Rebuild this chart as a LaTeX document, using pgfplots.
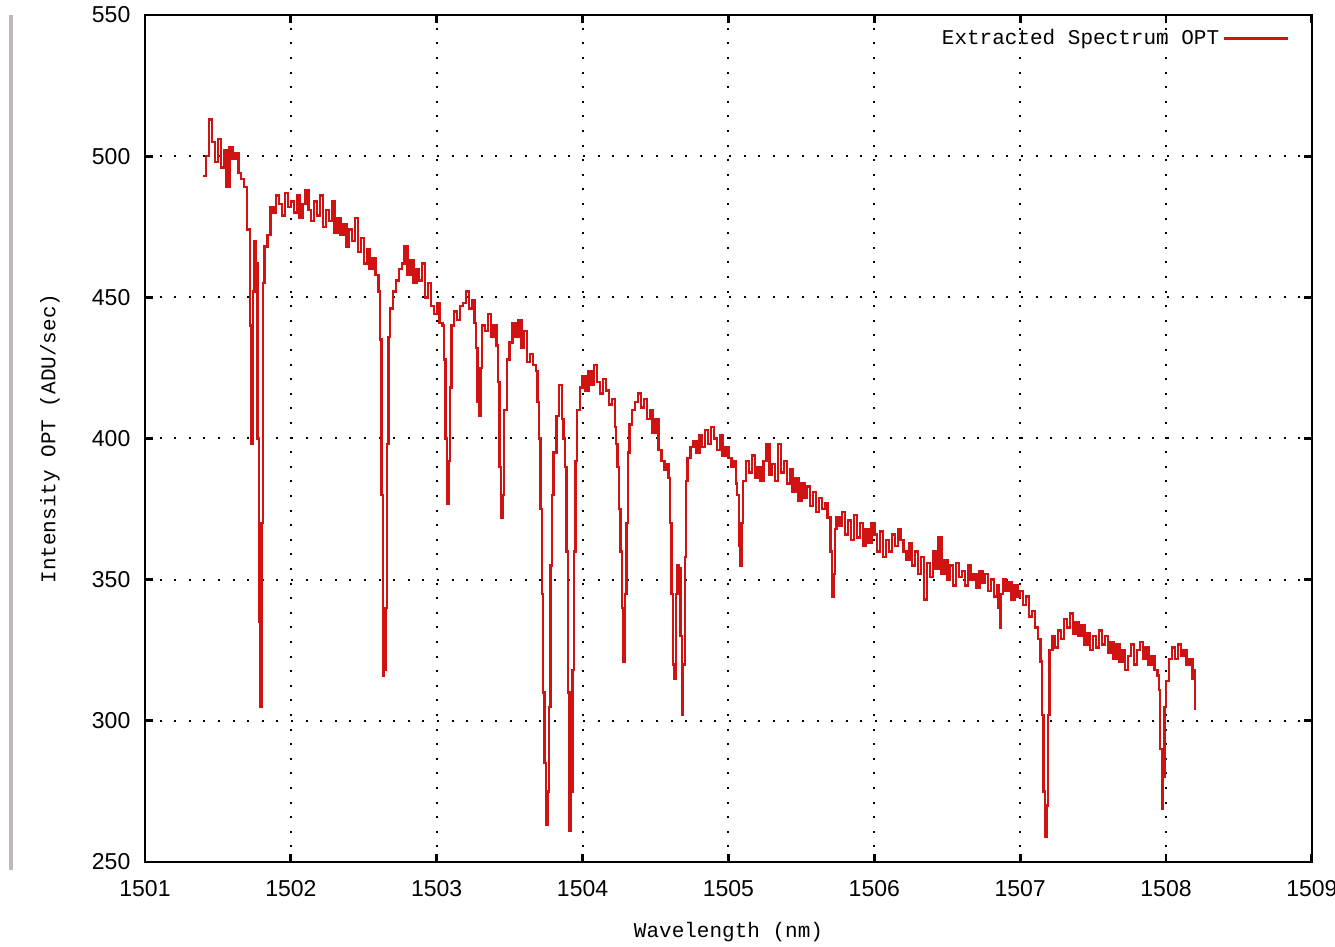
\documentclass[border=0pt]{standalone}
\usepackage{pgfplots}
\pgfplotsset{compat=1.18}
\usepackage{fontspec}
\setmainfont{Liberation Sans}
\newfontfamily\monof{Liberation Mono}
\definecolor{specred}{RGB}{208,18,18}
\definecolor{bargrey}{RGB}{190,184,186}

\begin{document}
\begin{tikzpicture}
\path[use as bounding box] (-72.5pt,-42.5pt) rectangle (595pt,431pt);
\draw[bargrey, line width=2pt] (-67pt,-4pt) -- (-67pt,423.5pt);
\begin{axis}[
    at={(0pt,0pt)}, anchor=south west,
    scale only axis,
    width=583.5pt, height=423.5pt,
    xmin=1501, xmax=1509,
    ymin=250, ymax=550,
    xtick={1501,1502,...,1509},
    ytick={250,300,...,550},
    /pgf/number format/1000 sep={},
    /pgf/number format/assume math mode=true,
    ticklabel style={font=\fontsize{11.5}{13}\selectfont},
    xticklabel style={yshift=-5.5pt},
    yticklabel style={xshift=-3.8pt},
    tick align=inside,
    major tick length=4pt,
    tick style={black, line width=1.4pt},
    axis line style={black, line width=1.4pt},
    grid=major,
    major grid style={black, line width=1pt, dash pattern=on 1pt off 6.3pt},
    xlabel={Wavelength (nm)},
    ylabel={Intensity OPT (ADU/sec)},
    label style={font=\monof\fontsize{10.5}{12}\selectfont},
    xlabel style={at={(axis description cs:0.5,-0.0826)}, anchor=center},
    ylabel style={at={(axis description cs:-0.0814,0.5)}, anchor=center},
    legend plot pos=right,
    legend image code/.code={\draw[#1] (0pt,0pt) -- (32pt,0pt);},
    legend style={draw=none, fill=none, at={(1,1)}, anchor=north east,
        xshift=-8pt, yshift=-3pt, font=\monof\fontsize{10.5}{12}\selectfont},
]
\addplot[specred, line width=1.2pt, const plot] table {
x y
1501.40 493
1501.42 500
1501.44 513
1501.46 505
1501.48 498
1501.50 506
1501.52 496
1501.54 502
1501.56 489
1501.58 503
1501.60 499
1501.62 501
1501.64 494
1501.66 492
1501.68 489
1501.70 474
1501.72 440
1501.73 398
1501.74 452
1501.75 470
1501.76 462
1501.77 400
1501.78 335
1501.79 305
1501.80 370
1501.81 455
1501.82 468
1501.84 472
1501.86 482
1501.88 480
1501.90 486
1501.92 483
1501.94 479
1501.96 487
1501.98 482
1502.00 484
1502.02 480
1502.04 486
1502.06 478
1502.08 483
1502.10 488
1502.12 481
1502.14 477
1502.16 484
1502.18 479
1502.20 486
1502.22 475
1502.24 481
1502.26 477
1502.28 484
1502.30 473
1502.32 478
1502.34 472
1502.36 476
1502.38 468
1502.40 474
1502.42 470
1502.44 478
1502.46 466
1502.48 471
1502.50 462
1502.52 467
1502.54 460
1502.56 464
1502.58 458
1502.60 452
1502.61 435
1502.62 380
1502.63 316
1502.64 318
1502.65 340
1502.66 398
1502.67 436
1502.68 446
1502.70 452
1502.72 456
1502.74 460
1502.76 462
1502.78 468
1502.80 458
1502.82 463
1502.84 455
1502.86 460
1502.88 456
1502.90 462
1502.92 450
1502.94 455
1502.96 447
1502.98 444
1503.00 448
1503.02 441
1503.04 440
1503.05 428
1503.06 400
1503.07 377
1503.08 392
1503.09 418
1503.10 440
1503.12 445
1503.14 442
1503.16 447
1503.18 448
1503.20 452
1503.22 446
1503.24 449
1503.26 441
1503.27 432
1503.28 413
1503.29 408
1503.30 425
1503.31 440
1503.33 438
1503.35 444
1503.37 436
1503.39 440
1503.41 433
1503.42 420
1503.43 390
1503.44 372
1503.45 380
1503.46 410
1503.48 428
1503.50 434
1503.52 441
1503.54 436
1503.56 442
1503.58 432
1503.60 438
1503.62 427
1503.64 430
1503.66 426
1503.68 424
1503.69 413
1503.70 400
1503.71 375
1503.72 345
1503.73 310
1503.74 285
1503.75 263
1503.76 275
1503.77 305
1503.78 355
1503.79 380
1503.80 395
1503.82 408
1503.84 419
1503.86 407
1503.87 400
1503.88 390
1503.89 360
1503.90 310
1503.91 261
1503.92 275
1503.93 318
1503.94 360
1503.95 392
1503.96 410
1503.98 418
1504.00 422
1504.02 417
1504.04 424
1504.06 419
1504.08 426
1504.10 420
1504.12 416
1504.14 421
1504.16 417
1504.18 412
1504.20 414
1504.22 404
1504.23 398
1504.24 390
1504.25 375
1504.26 360
1504.27 340
1504.28 321
1504.29 345
1504.30 370
1504.31 395
1504.32 405
1504.34 410
1504.36 413
1504.38 416
1504.40 411
1504.42 414
1504.44 407
1504.46 410
1504.48 402
1504.50 407
1504.52 396
1504.54 392
1504.56 389
1504.58 391
1504.59 386
1504.60 370
1504.61 345
1504.62 320
1504.63 315
1504.64 345
1504.65 355
1504.66 354
1504.67 330
1504.68 302
1504.69 320
1504.70 358
1504.71 385
1504.72 393
1504.74 397
1504.76 399
1504.78 395
1504.80 401
1504.82 397
1504.84 403
1504.86 398
1504.88 404
1504.90 400
1504.92 396
1504.94 401
1504.96 394
1504.98 397
1505.00 393
1505.02 390
1505.04 392
1505.05 384
1505.06 380
1505.07 362
1505.08 355
1505.09 370
1505.10 385
1505.12 392
1505.14 388
1505.16 394
1505.18 386
1505.20 390
1505.22 385
1505.24 392
1505.26 398
1505.28 387
1505.30 391
1505.32 385
1505.34 398
1505.36 388
1505.38 392
1505.40 384
1505.42 389
1505.44 381
1505.46 386
1505.48 378
1505.50 384
1505.52 379
1505.54 383
1505.56 376
1505.58 381
1505.60 374
1505.62 379
1505.64 375
1505.66 377
1505.68 372
1505.70 360
1505.71 344
1505.72 352
1505.73 368
1505.74 372
1505.76 369
1505.78 374
1505.80 366
1505.82 371
1505.84 364
1505.86 373
1505.88 365
1505.90 370
1505.92 362
1505.94 368
1505.96 363
1505.98 370
1506.00 366
1506.02 360
1506.04 367
1506.06 358
1506.08 364
1506.10 360
1506.12 366
1506.14 362
1506.16 368
1506.18 364
1506.20 360
1506.22 357
1506.24 363
1506.26 355
1506.28 360
1506.30 352
1506.32 358
1506.34 343
1506.36 356
1506.38 351
1506.40 360
1506.42 354
1506.44 365
1506.46 352
1506.48 357
1506.50 350
1506.52 355
1506.54 348
1506.56 356
1506.58 351
1506.60 353
1506.62 348
1506.64 355
1506.66 350
1506.68 352
1506.70 347
1506.72 353
1506.74 349
1506.76 352
1506.78 346
1506.80 350
1506.82 344
1506.84 348
1506.85 340
1506.86 333
1506.87 345
1506.88 350
1506.90 346
1506.92 349
1506.94 343
1506.96 348
1506.98 344
1507.00 346
1507.02 341
1507.04 344
1507.06 337
1507.08 339
1507.10 333
1507.12 329
1507.14 321
1507.15 302
1507.16 275
1507.17 259
1507.18 270
1507.19 302
1507.20 325
1507.22 330
1507.24 326
1507.26 332
1507.28 329
1507.30 336
1507.32 333
1507.34 338
1507.36 331
1507.38 335
1507.40 330
1507.42 334
1507.44 327
1507.46 331
1507.48 325
1507.50 330
1507.52 326
1507.54 332
1507.56 327
1507.58 330
1507.60 324
1507.62 328
1507.64 322
1507.66 327
1507.68 321
1507.70 325
1507.72 318
1507.74 323
1507.76 327
1507.78 320
1507.80 325
1507.82 328
1507.84 322
1507.86 326
1507.88 320
1507.90 323
1507.92 318
1507.94 316
1507.95 311
1507.96 290
1507.97 269
1507.98 280
1507.99 305
1508.00 314
1508.02 322
1508.04 326
1508.06 322
1508.08 327
1508.10 323
1508.12 325
1508.14 320
1508.16 322
1508.18 315
1508.19 318
1508.20 304
};
\addlegendentry{Extracted Spectrum OPT}
\end{axis}
\end{tikzpicture}
\end{document}
